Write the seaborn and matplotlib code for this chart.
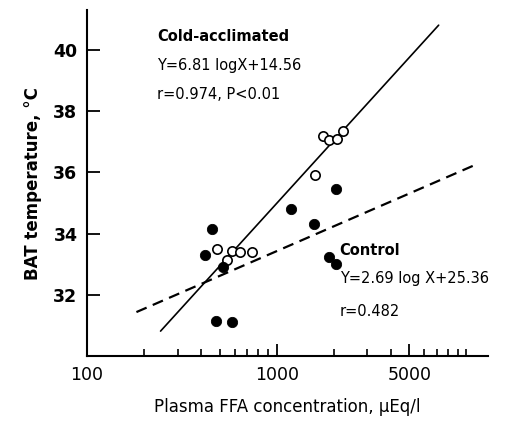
import numpy as np
import pandas as pd
import matplotlib
matplotlib.use('Agg')
import matplotlib.pyplot as plt
import seaborn as sns

sns.set_style('ticks')
plt.rcParams['font.family'] = ['DejaVu Sans']
for k in ['text.color', 'axes.labelcolor', 'xtick.color', 'ytick.color', 'axes.edgecolor']:
    plt.rcParams[k] = 'black'

# cold-acclimated (open circles)
cold_ffa = [1754, 1884, 2075, 2233, 1592, 487, 544, 584, 638, 741]
cold_temp = [37.2, 37.05, 37.1, 37.35, 35.9, 33.5, 33.15, 33.45, 33.4, 33.4]

# control (filled circles)
ctrl_ffa = [453, 418, 522, 478, 578, 1189, 1567, 2048, 1881, 2061]
ctrl_temp = [34.15, 33.3, 32.9, 31.15, 31.1, 34.8, 34.3, 35.45, 33.25, 33.0]

# regression lines: Y = a*logX + b, drawn over the printed range
cold_a, cold_b, cold_range = 6.81, 14.56, [244, 7150]
ctrl_a, ctrl_b, ctrl_range = 2.69, 25.36, [182, 11000]

df = pd.DataFrame({
    'ffa': cold_ffa + ctrl_ffa,
    'temp': cold_temp + ctrl_temp,
    'group': ['Cold-acclimated'] * len(cold_ffa) + ['Control'] * len(ctrl_ffa),
})

fig = plt.figure(figsize=(5.28, 4.21), dpi=100)
ax = fig.add_axes([0.165, 0.154, 0.759, 0.822])

xs = np.logspace(np.log10(cold_range[0]), np.log10(cold_range[1]), 50)
ax.plot(xs, cold_a * np.log10(xs) + cold_b, color='black', lw=1.2)
xs = np.logspace(np.log10(ctrl_range[0]), np.log10(ctrl_range[1]), 50)
ax.plot(xs, ctrl_a * np.log10(xs) + ctrl_b, color='black', lw=1.6, ls=(0, (5, 3)))

sns.scatterplot(data=df[df.group == 'Cold-acclimated'], x='ffa', y='temp', ax=ax,
                s=45, facecolor='white', edgecolor='black', linewidth=1.2, zorder=3, legend=False)
sns.scatterplot(data=df[df.group == 'Control'], x='ffa', y='temp', ax=ax,
                s=55, color='black', edgecolor='black', zorder=3, legend=False)

ax.set_xscale('log')
ax.set_xlim(100, 13000)
ax.set_ylim(30, 41.3)
sns.despine(ax=ax)
for s in ['left', 'bottom']:
    ax.spines[s].set_linewidth(1.5)

ax.set_xticks([100, 1000, 5000])
ax.set_xticklabels(['100', '1000', '5000'], fontsize=12.5)
minor = [200, 300, 400, 500, 600, 700, 800, 900,
         2000, 3000, 4000, 6000, 7000, 8000, 9000, 10000]
ax.set_xticks(minor, minor=True)
ax.xaxis.set_minor_formatter(matplotlib.ticker.NullFormatter())
ax.set_yticks([32, 34, 36, 38, 40])
ax.set_yticklabels(['32', '34', '36', '38', '40'], fontsize=12.5, fontweight='bold')
ax.tick_params(axis='both', which='major', direction='in', length=9, width=1.3, pad=7)
ax.tick_params(axis='x', which='minor', direction='in', length=5, width=1.2)

ax.set_xlabel('Plasma FFA concentration, μEq/l', fontsize=12, labelpad=10)
ax.set_ylabel('BAT temperature, °C', fontsize=12, fontweight='bold', labelpad=8)

txt = dict(transform=ax.transData, fontsize=10.5, ha='left', va='center')
ax.text(235, 40.45, 'Cold-acclimated', fontweight='bold', **txt)
ax.text(235, 39.5, 'Y=6.81 logX+14.56', **txt)
ax.text(235, 38.55, 'r=0.974, P<0.01', **txt)
ax.text(2150, 33.45, 'Control', fontweight='bold', **txt)
ax.text(2150, 32.55, 'Y=2.69 log X+25.36', **txt)
ax.text(2150, 31.45, 'r=0.482', **txt)

plt.savefig('out.png', dpi=100)
plt.close()
